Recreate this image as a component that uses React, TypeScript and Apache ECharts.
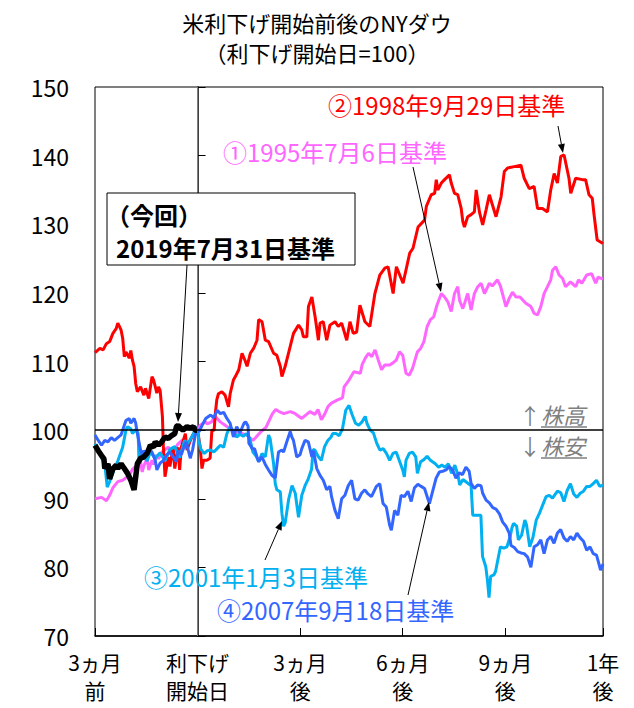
import React, { useEffect, useRef } from "react";
import * as echarts from "echarts";

// x = trading days from the rate-cut start date, y = index (cut date = 100)
const xTickDays = [-63, 0, 63, 126, 189, 249];
const xTickLabels = ["3ヵ月\n前", "利下げ\n開始日", "3ヵ月\n後", "6ヵ月\n後", "9ヵ月\n後", "1年\n後"];

const s1995: number[][] = [
  [-63, 90.0], [-59, 90.2], [-56, 89.7], [-54, 90.5], [-52, 91.6], [-49, 92.5], [-46, 92.7], [-42, 93.4],
  [-40, 94.3], [-35, 95.4], [-34, 93.9], [-33, 94.8], [-31, 95.9], [-30, 94.2], [-28, 95.6], [-27, 95.0],
  [-25, 96.4], [-24, 95.8], [-22, 96.8], [-18, 97.5], [-15, 96.8], [-12, 98.0], [-9, 98.6], [-6, 97.8],
  [-3, 99.2], [0, 100], [1.6, 100.7], [4.7, 101.2], [6, 100.9], [8.6, 101.2], [10.8, 102.0], [13.9, 101.2],
  [16.9, 100.7], [20, 100.2], [22, 99.8], [27, 99.5], [30, 99.3], [34, 98.5], [36, 99.0], [39, 99.8],
  [42, 100.4], [46, 102.4], [48, 103.0], [50, 102.7], [53, 102.4], [57, 102.7], [60, 102.4], [61, 102.2],
  [64, 101.7], [69, 102.7], [72, 102.3], [74, 103.0], [76, 101.5], [78, 102.3], [80, 103.4], [82, 103.9],
  [86, 104.4], [89, 104.7], [90, 106.3], [93, 107.3], [96, 108.5], [100, 108.3], [101, 109.5], [103, 110.5],
  [105, 111.2], [107, 110.7], [109, 111.7], [111, 110.2], [113, 108.8], [115, 109.5], [118, 109.5],
  [120, 109.8], [122, 110.2], [124, 111.4], [126, 110.9], [128, 108.3], [130, 108.0], [132, 109.0],
  [135, 111.4], [137, 111.9], [139, 112.9], [141, 115.1], [143, 116.1], [145, 116.5], [147, 118.2],
  [149.7, 119.9], [151.7, 119.4], [153.7, 118.7], [155.8, 117.3], [157.8, 119.9], [159.8, 120.9],
  [160.9, 118.9], [162.9, 117.7], [164, 118.5], [165.9, 119.9], [168, 117.5], [170, 119.9], [172.1, 120.9],
  [174.1, 121.4], [176.2, 119.9], [177, 120.3], [179.2, 121.4], [181, 121.0], [184.2, 121.9], [186, 121.0],
  [189.4, 118.0], [191.4, 119.2], [193.4, 120.1], [195.5, 119.4], [198, 119.4], [201.6, 118.5],
  [204.7, 118.0], [206.7, 117.0], [208.8, 116.8], [210.8, 118.0], [212.8, 119.9], [214.9, 120.9],
  [216.9, 121.9], [218, 123.3], [220, 123.8], [222, 122.6], [224.2, 122.1], [226, 120.9], [229, 121.6],
  [232.2, 120.9], [234, 121.9], [236, 121.4], [239, 122.6], [242, 122.8], [244.5, 121.4], [246, 122.3],
  [249, 122.0],
];

const s1998: number[][] = [
  [-63, 111.3], [-60, 111.9], [-58, 111.7], [-56, 112.6], [-54, 112.9], [-52, 114.1], [-50, 114.8],
  [-49, 115.6], [-47, 114.6], [-46, 113.4], [-45, 110.7], [-44, 111.4], [-42, 110.5], [-41, 111.6],
  [-40, 110.2], [-39, 109.3], [-38, 106.8], [-37, 105.6], [-35, 106.3], [-33, 105.1], [-32, 106.1],
  [-30, 104.6], [-28, 107.8], [-27, 107.3], [-25, 105.4], [-24, 106.3], [-23, 105.8], [-21.6, 102.0],
  [-21, 97.5], [-20, 93.2], [-18, 96.1], [-17, 94.7], [-15, 97.5], [-14, 94.4], [-12, 97.5], [-11, 94.2],
  [-10, 97.5], [-7.5, 99.5], [-6.5, 97.1], [-4.5, 98.5], [-2.5, 99.5], [0, 100], [1.6, 97.5], [2.7, 94.4],
  [3.7, 95.6], [5.7, 95.6], [7.7, 95.9], [8.8, 100], [10.2, 100], [10.8, 102.2], [11.8, 104.4],
  [12.8, 105.3], [14.9, 105.6], [16.9, 105.1], [19, 103.4], [20, 105.3], [22, 107.3], [23.2, 107.8],
  [25.3, 108.8], [27.3, 111.2], [29.4, 110.0], [30.4, 109.3], [32.4, 111.2], [34.4, 111.9], [36.5, 113.1],
  [37.5, 116.1], [39.6, 115.8], [41.6, 113.1], [43.6, 112.9], [46.7, 111.2], [48.7, 110.9], [50.8, 109.3],
  [51.8, 107.8], [53.8, 109.3], [56.9, 112.2], [58.9, 114.1], [62, 115.3], [64, 114.6], [65, 113.6],
  [67.1, 113.6], [68.1, 118.0], [70.2, 119.4], [72.2, 116.5], [74.2, 113.1], [75.2, 115.6], [77.2, 115.8],
  [79.3, 113.1], [81.3, 115.3], [84.4, 115.8], [86.4, 115.1], [88.5, 115.6], [91.6, 113.1], [93.6, 115.8],
  [95.6, 114.1], [97.7, 114.3], [99.7, 118.2], [102.8, 115.8], [105.8, 115.1], [108.9, 119.9],
  [111.9, 122.6], [115, 123.6], [117, 123.8], [120.1, 119.9], [122.1, 123.8], [126.2, 121.4],
  [130.3, 125.8], [132.3, 126.5], [135.4, 129.6], [139.4, 130.6], [140.5, 132.6], [143.5, 134.3],
  [145.6, 134.5], [146.6, 136.5], [147.6, 135.0], [149.7, 136.0], [151.7, 136.5], [154.7, 137.2],
  [155.8, 136.0], [157.8, 134.5], [159.8, 134.3], [161.9, 132.3], [162.9, 130.4], [163.9, 129.6],
  [165.9, 131.1], [168, 131.4], [170, 131.8], [171.1, 135.0], [173.1, 131.8], [175.1, 129.9],
  [177.2, 132.1], [179.2, 134.3], [183.3, 131.1], [186.4, 134.0], [188.4, 137.7], [190.4, 138.2],
  [194.5, 138.4], [198.6, 138.6], [200.6, 136.7], [203.7, 135.2], [206.7, 135.5], [208.8, 132.3],
  [211.8, 132.3], [214.9, 131.8], [216.9, 135.0], [219, 137.4], [221, 136.0], [223.1, 139.9],
  [225.1, 140.1], [228.1, 136.7], [229.2, 134.5], [232.2, 136.7], [236.3, 136.5], [238.3, 136.5],
  [240.4, 134.3], [242.4, 133.8], [243.4, 131.6], [245.4, 127.7], [249, 127.2],
];

const s2001: number[][] = [
  [-63, 98.0], [-60, 96.4], [-57, 95.1], [-55.5, 91.7], [-54, 92.5], [-51, 94.4], [-49, 95.5], [-46, 97.5],
  [-44, 100], [-43, 100.5], [-41, 100.2], [-40, 99.5], [-38, 100.1], [-36.5, 99.5], [-36, 95.6], [-34, 96.6],
  [-31, 95.5], [-29, 96.8], [-26, 95.9], [-23, 96.7], [-20, 95.5], [-17, 97.2], [-14, 97.6], [-11, 96.0],
  [-8, 98.5], [-6, 98.0], [-2.4, 99.5], [-1, 100.5], [0, 100], [0.8, 98.5], [1.8, 97.3], [3.9, 96.6],
  [6, 97.0], [8, 97.1], [10, 96.8], [12, 97.3], [14, 97.8], [16, 97.5], [18, 99.5], [20, 100.5], [22, 99.9],
  [24, 99.0], [26, 99.4], [28, 99.1], [30, 99.5], [32, 98.8], [34, 96.8], [36, 96.2], [37.5, 95.4],
  [39.6, 96.6], [41.6, 96.1], [43.6, 99.3], [44.6, 98.7], [46.7, 95.1], [47.7, 92.2], [48.7, 91.3],
  [50.8, 91.0], [51.8, 87.9], [52.8, 86.0], [53.8, 86.5], [56, 90.0], [58, 91.9], [60, 90.8], [62, 87.3],
  [64, 90.5], [66, 91.9], [68, 92.9], [70, 94.3], [71, 97.2], [72, 97.1], [74, 96.2], [76, 95.6], [78, 97.6],
  [80, 98.5], [82, 99.0], [83, 99.5], [85, 99.5], [87, 99.2], [89, 100.2], [91, 102.9], [93, 103.6],
  [95, 102.2], [97, 101.0], [99, 100.7], [101, 101.2], [103, 102.0], [104, 101.0], [106, 100.0], [108, 99.6],
  [110, 98.1], [112, 97.1], [114, 97.3], [116, 96.6], [118, 95.6], [120, 96.6], [122, 96.8], [124, 95.5],
  [126, 94.2], [127, 93.2], [128, 95.6], [130, 96.6], [132, 96.8], [134, 96.1], [135, 93.7], [137, 95.4],
  [139, 95.7], [141, 96.2], [143, 95.6], [146, 95.1], [148, 94.6], [150, 94.9], [152, 94.6], [154, 95.1],
  [156, 93.7], [158, 94.9], [160, 93.4], [161, 92.0], [163, 92.8], [168, 91.9], [169, 87.6], [174, 87.6],
  [175, 81.6], [177, 80.1], [178, 78.2], [179, 75.6], [180, 78.7], [182, 78.9], [183, 79.4], [184, 80.6],
  [186, 83.0], [188, 82.8], [190, 83.0], [192, 84.5], [193, 85.7], [194, 86.4], [196, 86.0], [197, 84.0],
  [199, 84.7], [201, 86.9], [202, 86.2], [204, 83.0], [206, 84.4], [208, 86.9], [210, 87.9], [212, 89.1],
  [214, 90.3], [216, 90.5], [218, 90.1], [221, 91.1], [223, 90.9], [225, 89.6], [227, 91.2], [229, 92.2],
  [231, 90.7], [233, 90.2], [235, 90.8], [237, 91.1], [239, 91.8], [241, 91.8], [243, 92.2], [245, 92.7],
  [247, 91.8], [249, 92.0],
];

const s2007: number[][] = [
  [-63, 99.3], [-61, 98.5], [-59, 97.8], [-57, 98.5], [-55, 98.3], [-53, 98.9], [-51, 98.5], [-49, 98.9],
  [-47, 99.3], [-45, 100.7], [-44, 101.4], [-42, 101.7], [-41, 101.0], [-39, 101.7], [-38, 101.0],
  [-37, 99.5], [-35, 97.1], [-34, 96.4], [-33, 97.0], [-31, 96.4], [-30, 97.4], [-28, 96.8], [-26, 95.6],
  [-25, 94.2], [-23, 95.2], [-21, 95.6], [-19, 96.4], [-17, 96.8], [-15, 96.1], [-13, 95.4], [-12, 97.0],
  [-10, 96.4], [-8, 97.8], [-7, 98.3], [-4.5, 95.9], [-3, 97.2], [-1.4, 99.3], [0, 100], [1, 99.8],
  [3, 100.8], [5, 101.7], [8, 102.2], [10, 101.8], [12, 102.9], [14, 102.4], [16, 102.6], [18, 101.7],
  [20, 101.0], [22, 99.0], [24, 100.5], [26, 99.6], [28.5, 101.0], [29.5, 101.2], [31, 100.6], [31.5, 98.1],
  [33.6, 97.3], [35, 97.3], [36.5, 96.1], [37.5, 95.4], [39.5, 96.1], [41.6, 95.0], [43.6, 94.2],
  [45.7, 93.4], [47.7, 93.0], [49.7, 96.8], [51.8, 97.1], [52.8, 96.8], [54.8, 98.3], [56.9, 99.8],
  [57.9, 99.0], [58.9, 98.5], [60.9, 96.1], [62.9, 96.4], [64, 97.3], [66, 98.5], [68, 98.3], [70.2, 96.1],
  [71.2, 97.0], [73.2, 94.4], [75.2, 93.4], [77.2, 92.7], [79.3, 91.3], [81.3, 91.8], [82.3, 90.3],
  [84.4, 88.3], [86.4, 87.1], [88.5, 90.0], [90.5, 90.5], [92.5, 91.9], [94.6, 92.7], [96.6, 90.0],
  [98.6, 89.8], [100.7, 90.8], [102.7, 91.3], [104.7, 90.7], [106.8, 90.3], [109.8, 91.8], [111.9, 92.2],
  [113.9, 89.3], [115.9, 88.8], [117.9, 86.2], [119, 85.4], [121, 88.3], [123, 87.6], [125, 90.5],
  [127, 90.3], [129.2, 91.1], [131.2, 89.6], [133.2, 91.6], [135.3, 92.1], [137.3, 91.8], [139.4, 91.5],
  [141.4, 90.0], [142.4, 89.3], [144.4, 91.1], [146.5, 93.0], [148.5, 93.9], [150.5, 94.0], [152.6, 94.2],
  [154.6, 94.7], [156.6, 94.2], [158.7, 93.0], [160.7, 93.8], [162.7, 93.5], [164.8, 94.6], [166.8, 94.0],
  [168, 92.2], [170, 91.5], [172, 92.0], [174.1, 91.9], [175.1, 90.8], [177.2, 89.8], [179.2, 89.4],
  [181.3, 88.7], [183.3, 88.5], [185.4, 87.8], [187.4, 86.6], [189.4, 86.0], [191.4, 85.0], [192.5, 83.2],
  [194.5, 82.9], [196.6, 82.3], [198.6, 82.1], [200.6, 82.0], [202.7, 81.5], [204.7, 80.0], [206.7, 83.0],
  [208.8, 83.3], [210.8, 84.0], [212.8, 82.0], [214.9, 84.0], [216.9, 84.5], [218.9, 83.5], [221, 85.0],
  [223, 85.5], [225, 84.3], [227, 83.8], [229, 84.5], [231, 84.0], [233, 85.0], [235, 84.3], [237, 83.8],
  [239, 82.5], [241, 83.0], [243, 82.0], [245, 81.8], [246.5, 80.5], [247.5, 79.6], [249, 80.5],
];

const s2019: number[][] = [
  [-63, 97.8], [-61, 97.0], [-59, 96.3], [-57.5, 95.8], [-57, 94.4], [-55, 95.1], [-54, 92.9], [-52, 94.4],
  [-50, 94.9], [-49, 94.4], [-47, 95.1], [-45, 94.4], [-43, 93.7], [-41, 92.7], [-39, 91.3], [-38, 93.2],
  [-37, 95.1], [-35, 95.9], [-33, 96.1], [-31, 96.6], [-29, 97.8], [-27, 97.5], [-26, 98.3], [-24, 97.8],
  [-22, 98.3], [-20, 99.0], [-18, 98.8], [-16, 99.2], [-14, 99.5], [-13, 100.5], [-12, 100.7], [-10, 100.2],
  [-9, 100.0], [-6.5, 100.5], [-4.5, 100.3], [-2.5, 100.5], [-1.5, 100.0], [0, 100],
];

const FONT = "'Noto Sans CJK JP', 'Noto Sans', sans-serif";

function arrow(x1: number, y1: number, x2: number, y2: number) {
  const a = Math.atan2(y2 - y1, x2 - x1);
  const L = 9;
  const W = 3.5;
  const bx = x2 - L * Math.cos(a);
  const by = y2 - L * Math.sin(a);
  const nx = -Math.sin(a);
  const ny = Math.cos(a);
  return [
    { type: "line", shape: { x1, y1, x2: bx, y2: by }, style: { stroke: "#000", lineWidth: 1 }, z: 100 },
    {
      type: "polygon",
      shape: { points: [[x2, y2], [bx + nx * W, by + ny * W], [bx - nx * W, by - ny * W]] },
      style: { fill: "#000" },
      z: 100,
    },
  ];
}

function label(x: number, y: number, text: string, color: string, extra: any = {}) {
  return {
    type: "text",
    x,
    y,
    z: 100,
    style: {
      text,
      fill: color,
      fontSize: 24,
      fontFamily: FONT,
      align: "left",
      verticalAlign: "middle",
      ...extra,
    },
  };
}

export default function App() {
  const ref = useRef<HTMLDivElement>(null);
  useEffect(() => {
    document.body.style.margin = "0";
    const chart = echarts.init(ref.current!, null, { renderer: "svg" });
    const lineSeries = (name: string, data: number[][], color: string, width: number, extra: any = {}) => ({
      type: "line",
      name,
      data,
      showSymbol: false,
      symbol: "none",
      silent: true,
      lineStyle: { color, width },
      itemStyle: { color },
      ...extra,
    });
    chart.setOption({
      animation: false,
      backgroundColor: "#fff",
      title: [
        {
          text: "米利下げ開始前後のNYダウ",
          left: "center",
          top: 6,
          textStyle: { fontSize: 22, fontWeight: "normal", color: "#000", fontFamily: FONT },
        },
        {
          text: "（利下げ開始日=100）",
          left: "center",
          top: 36,
          textStyle: { fontSize: 22, fontWeight: "normal", color: "#000", fontFamily: FONT },
        },
      ],
      grid: { left: 95, right: 31, top: 87, bottom: 72, show: true, borderColor: "#000", borderWidth: 1 },
      xAxis: {
        type: "value",
        min: -63,
        max: 249,
        splitLine: { show: false },
        axisLine: { lineStyle: { color: "#000", width: 1.5 } },
        axisTick: { inside: true, length: 8, customValues: xTickDays, lineStyle: { color: "#000" } },
        axisLabel: {
          customValues: xTickDays,
          formatter: (v: number) => xTickLabels[xTickDays.indexOf(v)] ?? "",
          fontSize: 21,
          lineHeight: 28,
          color: "#000",
          fontFamily: FONT,
          margin: 12,
        },
      },
      yAxis: {
        type: "value",
        min: 70,
        max: 150,
        interval: 10,
        splitLine: { show: false },
        axisLine: { show: true, lineStyle: { color: "#000", width: 1.5 } },
        axisTick: { show: true, inside: true, length: 8, lineStyle: { color: "#000" } },
        axisLabel: { fontSize: 23, color: "#000", fontFamily: FONT, margin: 26 },
      },
      series: [
        lineSeries("1995", s1995, "#FF66FF", 3, {
          markLine: {
            silent: true,
            symbol: "none",
            label: { show: false },
            lineStyle: { color: "#7f7f7f", width: 1, type: "solid" },
            data: [{ xAxis: 0 }],
          },
        }),
        lineSeries("1998", s1998, "#FF0000", 3),
        lineSeries("2001", s2001, "#00B0F0", 3),
        lineSeries("2007", s2007, "#3366FF", 3, {
          markLine: {
            silent: true,
            symbol: "none",
            label: { show: false },
            lineStyle: { color: "#000", width: 1.5, type: "solid" },
            data: [{ yAxis: 100 }],
          },
        }),
        lineSeries("2019", s2019, "#000000", 5.5),
      ],
      graphic: [
        label(328, 104, "②1998年9月29日基準", "#FF0000"),
        ...arrow(558, 126, 563, 153),
        label(223, 151, "①1995年7月6日基準", "#FF66FF"),
        ...arrow(413, 167, 441, 292),
        {
          type: "rect",
          shape: { x: 107, y: 193, width: 248, height: 72 },
          style: { fill: "#fff", stroke: "#000", lineWidth: 1 },
          z: 100,
        },
        label(106, 214, "（今回）", "#000", { fontWeight: "bold" }),
        label(116, 247, "2019年7月31日基準", "#000", { fontWeight: "bold" }),
        ...arrow(187, 265, 178, 422),
        label(144, 576, "③2001年1月3日基準", "#00B0F0"),
        ...arrow(265, 560, 282, 521),
        label(217, 609, "④2007年9月18日基準", "#3366FF"),
        ...arrow(408, 595, 429, 502),
        label(519, 414, "↑", "#7f7f7f", { fontSize: 22 }),
        label(541, 414, "株高", "#7f7f7f", { fontSize: 22, fontStyle: "italic" }),
        label(519, 445, "↓", "#7f7f7f", { fontSize: 22 }),
        label(541, 445, "株安", "#7f7f7f", { fontSize: 22, fontStyle: "italic" }),
        { type: "line", shape: { x1: 541, y1: 427, x2: 587, y2: 427 }, style: { stroke: "#7f7f7f", lineWidth: 1.5 }, z: 100 },
        { type: "line", shape: { x1: 541, y1: 458, x2: 587, y2: 458 }, style: { stroke: "#7f7f7f", lineWidth: 1.5 }, z: 100 },
      ],
    });
    return () => chart.dispose();
  }, []);
  return <div ref={ref} style={{ position: "fixed", left: 0, top: 0, width: 634, height: 708 }} />;
}
